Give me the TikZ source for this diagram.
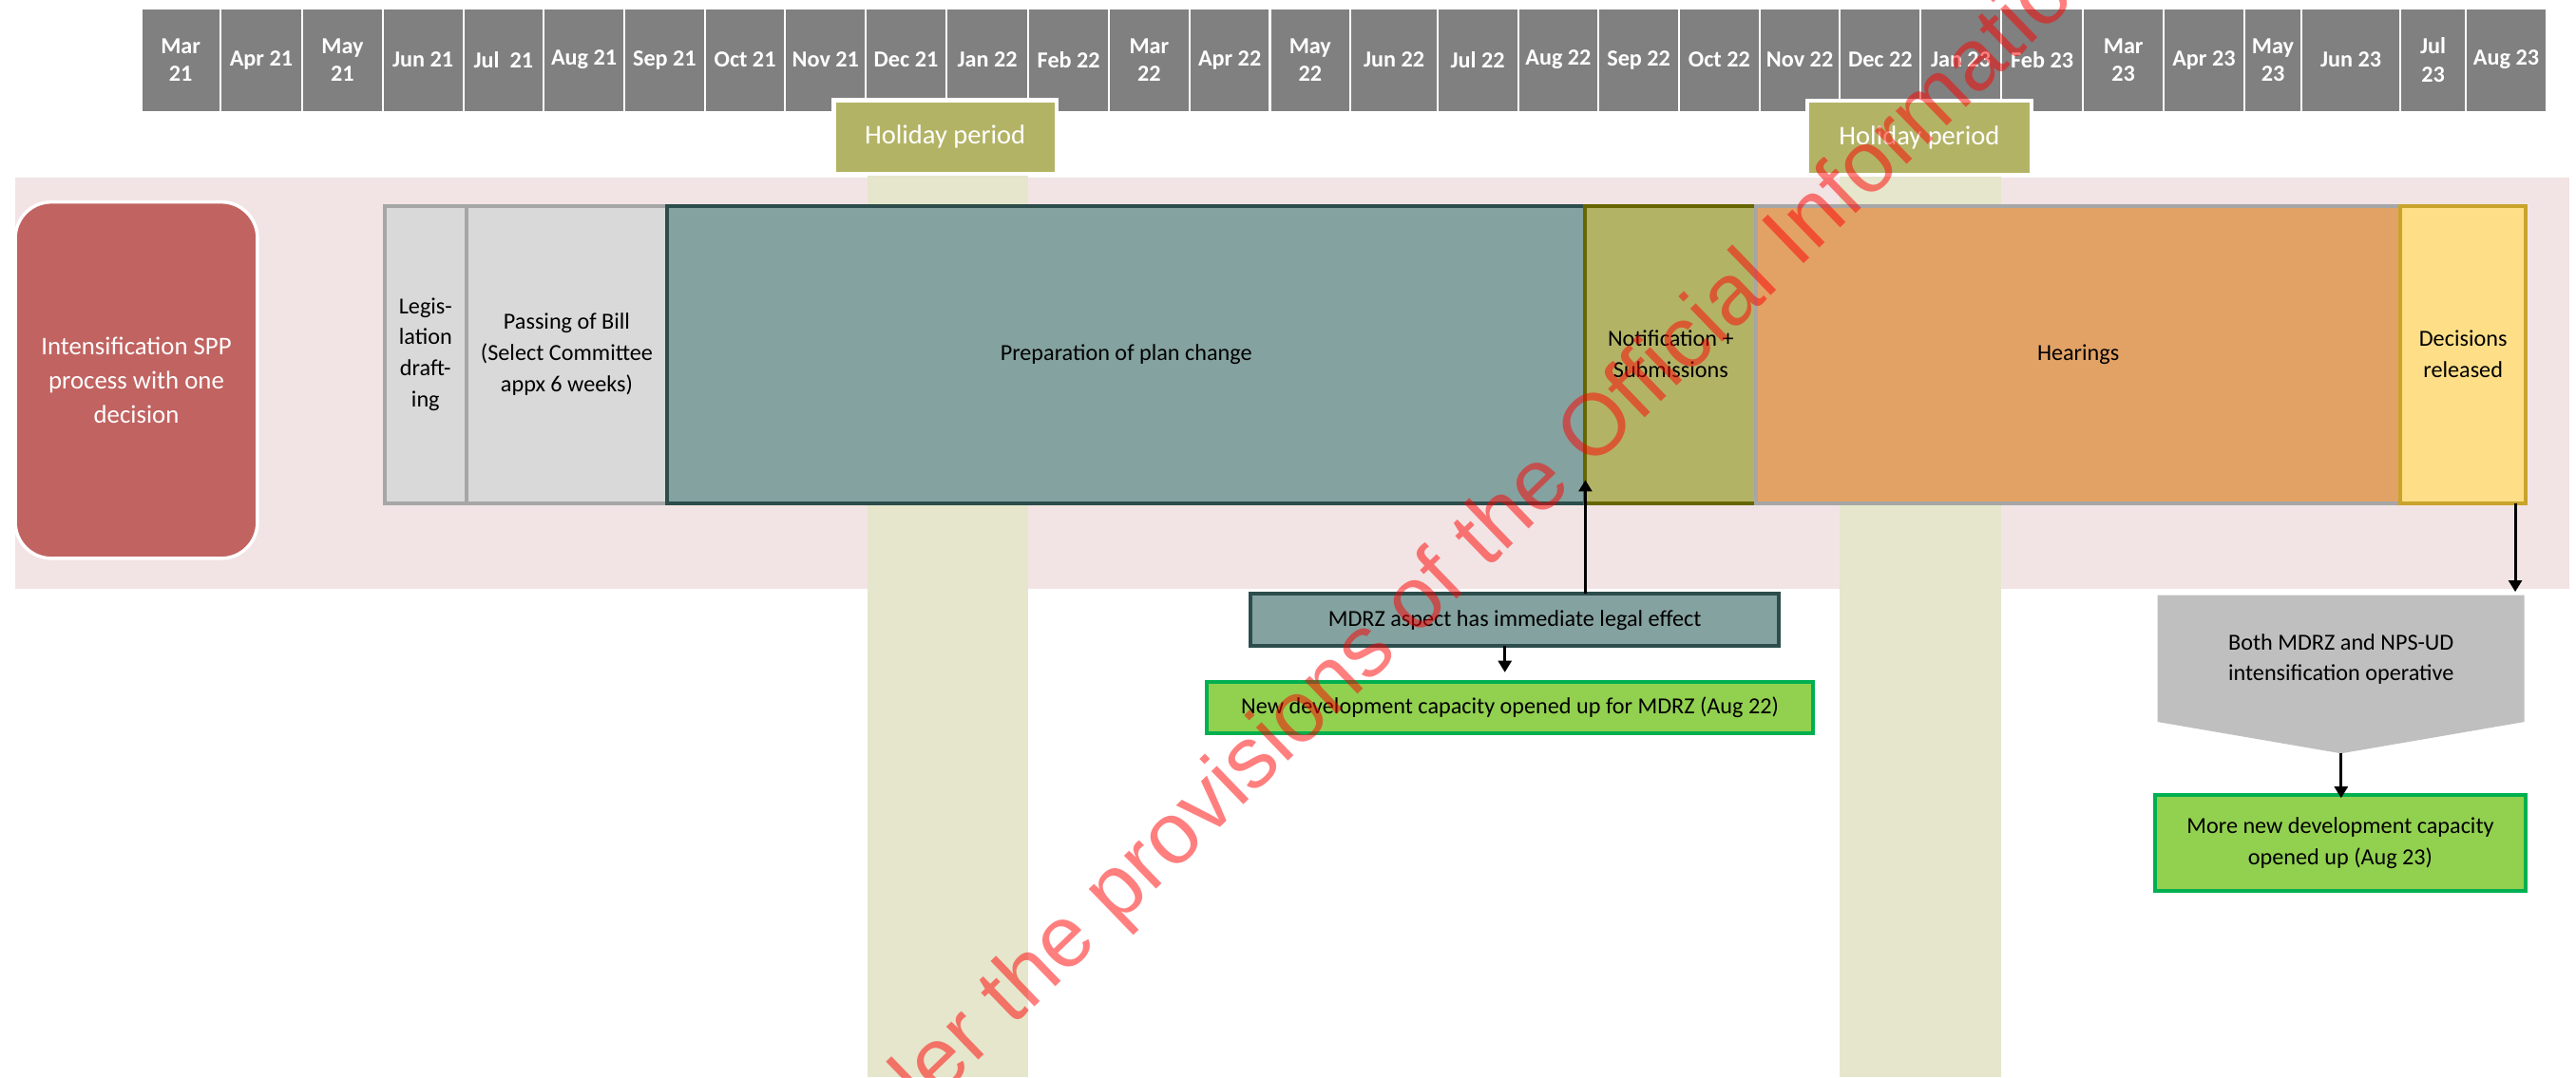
\documentclass[tikz,border=0pt]{standalone}
\usepackage{fontspec}
\setmainfont{Carlito}
\newfontfamily\wmfont{Liberation Sans}
\usetikzlibrary{arrows.meta}
\definecolor{cHdr}{HTML}{808080}
\definecolor{cOliv}{HTML}{B3B366}
\definecolor{cOlivD}{HTML}{666600}
\definecolor{cStripe}{HTML}{E5E6CC}
\definecolor{cPink}{HTML}{F2E4E4}
\definecolor{cRed}{HTML}{C16361}
\definecolor{cGrayL}{HTML}{D9D9D9}
\definecolor{cGrayB}{HTML}{A6A6A6}
\definecolor{cTeal}{HTML}{84A29F}
\definecolor{cTealD}{HTML}{2C4D4B}
\definecolor{cOrng}{HTML}{E2A266}
\definecolor{cYel}{HTML}{FEDF87}
\definecolor{cGold}{HTML}{C9A32A}
\definecolor{cGrn}{HTML}{92D050}
\definecolor{cGrnD}{HTML}{00B050}
\definecolor{cPent}{HTML}{BFBFBF}
\begin{document}
\begin{tikzpicture}[x=1pt,y=-1pt,
  hcell/.style={draw=white, line width=1.2pt, fill=cHdr, text=white,
    font=\bfseries\fontsize{14}{16.8}\selectfont, align=center,
    minimum height=63pt, inner sep=0pt, outer sep=0pt},
  pbox/.style={line width=2.3pt, align=center, font=\fontsize{14}{19}\selectfont,
    inner sep=0pt, outer sep=0pt, anchor=north west, minimum height=181pt},
  sbox/.style={line width=2.3pt, align=center, font=\fontsize{14}{19}\selectfont,
    inner sep=0pt, outer sep=0pt, anchor=north west},
  hol/.style={fill=cOliv, draw=white, line width=2.5pt, text=white,
    font=\fontsize{16.5}{19}\selectfont, inner sep=0pt, outer sep=0pt,
    anchor=north west, minimum height=45pt},
  arr/.style={line width=1.8pt, -{Triangle[length=7pt,width=8pt]}},
]
\useasboundingbox (0,0) rectangle (1568,655.9);
\fill[white] (0,0) rectangle (1568,655.9);

% header
\foreach \a/\b/\t [count=\i] in {86/134/{Mar\\21}, 134/184/{Apr 21}, 184/233/{May\\21},
  233/282/{Jun 21}, 282/331/{Jul\ \ 21}, 331/380/{Aug 21}, 380/429/{Sep 21},
  429/478/{Oct 21}, 478/527/{Nov 21}, 527/576/{Dec 21}, 576/626/{Jan 22},
  626/675/{Feb 22}, 675/724/{Mar\\22}, 724/773/{Apr 22}, 773/822/{May\\22},
  822/875/{Jun 22}, 875/924/{Jul 22}, 924/973/{Aug 22}, 973/1022/{Sep 22},
  1022/1071/{Oct 22}, 1071/1120/{Nov 22}, 1120/1169/{Dec 22}, 1169/1218/{Jan 23},
  1218/1268/{Feb 23}, 1268/1317/{Mar\\23}, 1317/1366/{Apr 23}, 1366/1401/{May\\23},
  1401/1461/{Jun 23}, 1461/1501/{Jul\\23}, 1501/1550/{Aug 23}}
{
  \node[hcell, minimum width={(\b-\a)*1pt}] (h\i) at ({(\a+\b)/2},36.5) {\t};
}

% band and stripes
\fill[cPink] (9,108) rectangle (1564,358.6);
\fill[cStripe] (528,104) rectangle (626,655.9);
\fill[cStripe] (1120,104) rectangle (1218,655.9);

% holiday labels
\node[hol, minimum width=135.4pt] (hol1) at (507.6,61) {Holiday period};
\node[hol, minimum width=136.6pt] (hol2) at (1100,61.3) {Holiday period};

% left label
\node[fill=cRed, draw=white, line width=2pt, rounded corners=22pt, text=white,
  align=center, font=\fontsize{15.5}{20.8}\selectfont, inner sep=0pt, outer sep=0pt,
  anchor=north west, minimum width=147.4pt, minimum height=217pt] (lbl) at (9.3,123)
  {Intensification SPP\\process with one\\decision};

% process boxes
\node[pbox, fill=cGrayL, draw=cGrayB, minimum width=50pt] (legis) at (234,125.3) {Legis-\\lation\\draft-\\ing};
\node[pbox, fill=cGrayL, draw=cGrayB, minimum width=122pt] (bill) at (284,125.3) {Passing of Bill\\(Select Committee\\appx 6 weeks)};
\node[pbox, fill=cTeal, draw=cTealD, minimum width=559pt] (prep) at (406,125.3) {Preparation of plan change};
\node[pbox, fill=cOliv, draw=cOlivD, minimum width=104pt] (notif) at (965,125.3) {Notification +\\Submissions};
\node[pbox, fill=cOrng, draw=cGrayB, minimum width=392pt] (hear) at (1069,125.3) {Hearings};
\node[pbox, fill=cYel, draw=cGold, minimum width=76.5pt] (dec) at (1461,125.3) {Decisions\\released};

% lower boxes
\node[sbox, fill=cTeal, draw=cTealD, minimum width=322pt, minimum height=32pt] (mdrz) at (761,361.5) {MDRZ aspect has immediate legal effect};
\node[sbox, fill=cGrn, draw=cGrnD, minimum width=369pt, minimum height=31pt] (green1) at (734.6,415.4) {New development capacity opened up for MDRZ (Aug 22)};

\fill[cPent] (1313.3,362.4) -- (1536.5,362.4) -- (1536.5,439.6) -- (1425,458.8) -- (1313.3,439.6) -- cycle;
\coordinate (ptop) at (1531,362.4);
\coordinate (ptip) at (1425,458.8);
\node[align=center, font=\fontsize{14}{19}\selectfont, inner sep=0pt] (both) at (1425,401.4) {Both MDRZ and NPS-UD\\intensification operative};

\node[sbox, fill=cGrn, draw=cGrnD, minimum width=225.5pt, minimum height=58.7pt] (green2) at (1311.8,484) {More new development capacity\\opened up (Aug 23)};

% connectors
\draw[arr] (mdrz.north -| notif.west) -- ([yshift=14pt]notif.south west);
\coordinate (a1) at ([xshift=-6pt]mdrz.south);
\draw[arr, shorten >=6pt] (a1) -- (a1 |- green1.north);
\draw[arr, shorten >=2pt] (ptop |- dec.south) -- (ptop);
\draw[arr, shorten >=-2pt] (ptip) -- (ptip |- green2.north);

% watermark
\begin{scope}
\clip (0,0) rectangle (1568,655.9);
\node[rotate=44, anchor=base, text=red, text opacity=0.5, inner sep=0pt,
  font=\wmfont\fontsize{53}{60}\selectfont] (wm) at (844,406)
  {Released under the provisions of the Official Information Act};
\end{scope}
\end{tikzpicture}
\end{document}
